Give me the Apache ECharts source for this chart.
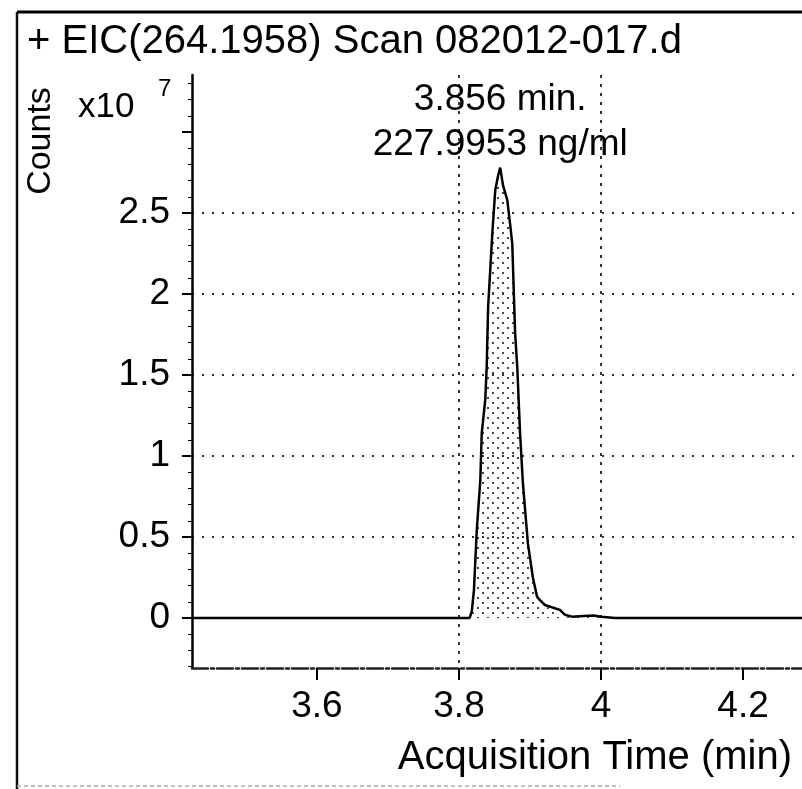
<!DOCTYPE html>
<html><head><meta charset="utf-8">
<script src="https://cdn.jsdelivr.net/npm/echarts@6/dist/echarts.min.js"></script>
<style>html,body{margin:0;padding:0;background:#fff}#c{width:802px;height:789px}</style>
</head><body><div id="c"></div>
<script>
// ---- data ----
const titleText = '+ EIC(264.1958) Scan 082012-017.d';
const xAxisName = 'Acquisition Time (min)';
const yAxisName = 'Counts';
const yScaleText = 'x10';
const yScaleExp = '7';
const times = [3.424, 3.50, 3.60, 3.70, 3.80, 3.815, 3.818, 3.821, 3.825, 3.830, 3.832, 3.837, 3.839, 3.841, 3.844, 3.847, 3.851, 3.855, 3.858, 3.862, 3.868, 3.872, 3.875, 3.879, 3.882, 3.886, 3.890, 3.897, 3.904, 3.910, 3.914, 3.921, 3.928, 3.935, 3.942, 3.949, 3.959, 3.975, 3.990, 4.000, 4.020, 4.100, 4.200, 4.283];
const counts = [0, 0, 0, 0, 0, 0, 0.04, 0.17, 0.54, 0.85, 1.14, 1.35, 1.55, 1.92, 2.15, 2.38, 2.64, 2.73, 2.78, 2.67, 2.58, 2.43, 2.31, 1.76, 1.55, 1.14, 0.83, 0.46, 0.25, 0.13, 0.11, 0.08, 0.07, 0.06, 0.05, 0.02, 0.008, 0.012, 0.015, 0.008, 0, 0, 0, 0];
const xTicks = [3.6, 3.8, 4.0, 4.2];
const xTickLabels = ['3.6', '3.8', '4', '4.2'];
const yTicks = [0, 0.5, 1, 1.5, 2, 2.5, 3];
const yTickLabels = ['0', '0.5', '1', '1.5', '2', '2.5', ''];
const peakLabels = ['3.856 min.', '227.9953 ng/ml'];
const xRange = [3.424, 4.283];
const yRange = [-0.309, 3.352];

// ---- dotted fill pattern ----
const pc = document.createElement('canvas');
pc.width = 10; pc.height = 10;
const g = pc.getContext('2d');
g.fillStyle = '#444';
g.fillRect(2, 2, 2, 2);
g.fillRect(7, 7, 2, 2);

const FONT = 'Liberation Sans';
const seriesData = times.map((t, i) => [t, counts[i]]);
let apex = 0;
counts.forEach((v, i) => { if (v > counts[apex]) apex = i; });

const chart = echarts.init(document.getElementById('c'), null, {renderer: 'canvas'});
chart.setOption({
  backgroundColor: '#fff',
  animation: false,
  grid: {left: 192, right: 0, top: 75, bottom: 121, containLabel: false, outerBoundsMode: 'none'},
  xAxis: {
    type: 'value', min: xRange[0], max: xRange[1],
    minInterval: 0.2, maxInterval: 0.2,
    axisLine: {show: true, onZero: false, lineStyle: {color: '#222', width: 2.5, type: [16, 3, 3, 3]}},
    axisTick: {show: true, length: 12, customValues: xTicks, lineStyle: {color: '#000', width: 2}},
    axisLabel: {
      show: true, margin: 20, customValues: xTicks,
      formatter: v => { const i = xTicks.findIndex(t => Math.abs(t - v) < 1e-6); return i >= 0 ? xTickLabels[i] : ''; },
      color: '#000', fontSize: 37, fontFamily: FONT
    },
    splitLine: {show: true, showMinLine: false, showMaxLine: false, lineStyle: {color: '#333', width: 2, type: [3, 6]}}
  },
  yAxis: {
    type: 'value', min: yRange[0], max: yRange[1],
    minInterval: 0.5, maxInterval: 0.5,
    axisLine: {show: true, onZero: false, lineStyle: {color: '#000', width: 2.5}},
    axisTick: {show: true, length: 10, customValues: yTicks, lineStyle: {color: '#000', width: 2}},
    minorTick: {show: true, splitNumber: 5, length: 4, lineStyle: {color: '#000', width: 1}},
    axisLabel: {
      show: true, margin: 22, customValues: yTicks,
      formatter: v => { const i = yTicks.findIndex(t => Math.abs(t - v) < 1e-6); return i >= 0 ? yTickLabels[i] : ''; },
      color: '#000', fontSize: 37, fontFamily: FONT
    },
    splitLine: {show: true, showMinLine: false, showMaxLine: false, lineStyle: {color: '#333', width: 2, type: [2, 8]}}
  },
  series: [{
    type: 'line',
    data: seriesData,
    showSymbol: false,
    symbol: 'none',
    lineStyle: {color: '#000', width: 2.5},
    areaStyle: {origin: 0, color: {image: pc, repeat: 'repeat'}, opacity: 1},
    markPoint: {
      symbol: 'circle', symbolSize: 0,
      data: [{coord: seriesData[apex]}],
      label: {
        show: true, position: 'top', distance: 0,
        formatter: peakLabels.join('\n'),
        color: '#000', fontSize: 37, fontFamily: FONT, lineHeight: 45, align: 'center'
      }
    }
  }],
  graphic: [
    {type: 'line', silent: true, shape: {x1: 17, y1: 12, x2: 802, y2: 12}, style: {stroke: '#000', lineWidth: 3}},
    {type: 'line', silent: true, shape: {x1: 17, y1: 12, x2: 17, y2: 789}, style: {stroke: '#111', lineWidth: 2.5}},
    {type: 'line', silent: true, shape: {x1: 17, y1: 786, x2: 620, y2: 786}, style: {stroke: '#aaa', lineWidth: 1.5, lineDash: [4, 3]}},
    {type: 'text', left: 27, top: 22, style: {text: titleText, fill: '#000', fontSize: 40, fontFamily: FONT}},
    {type: 'text', x: 41, y: 141, rotation: Math.PI / 2, style: {text: yAxisName, fill: '#000', fontSize: 34, fontFamily: FONT, align: 'center', verticalAlign: 'middle'}},
    {type: 'text', x: 78, y: 107, style: {text: yScaleText, fill: '#000', fontSize: 35, fontFamily: FONT, align: 'left', verticalAlign: 'middle'}},
    {type: 'text', x: 158, y: 89, style: {text: yScaleExp, fill: '#000', fontSize: 24, fontFamily: FONT, align: 'left', verticalAlign: 'middle'}},
    {type: 'text', x: 792, y: 758, style: {text: xAxisName, fill: '#000', fontSize: 40, fontFamily: FONT, align: 'right', verticalAlign: 'middle'}}
  ]
});
</script></body></html>
